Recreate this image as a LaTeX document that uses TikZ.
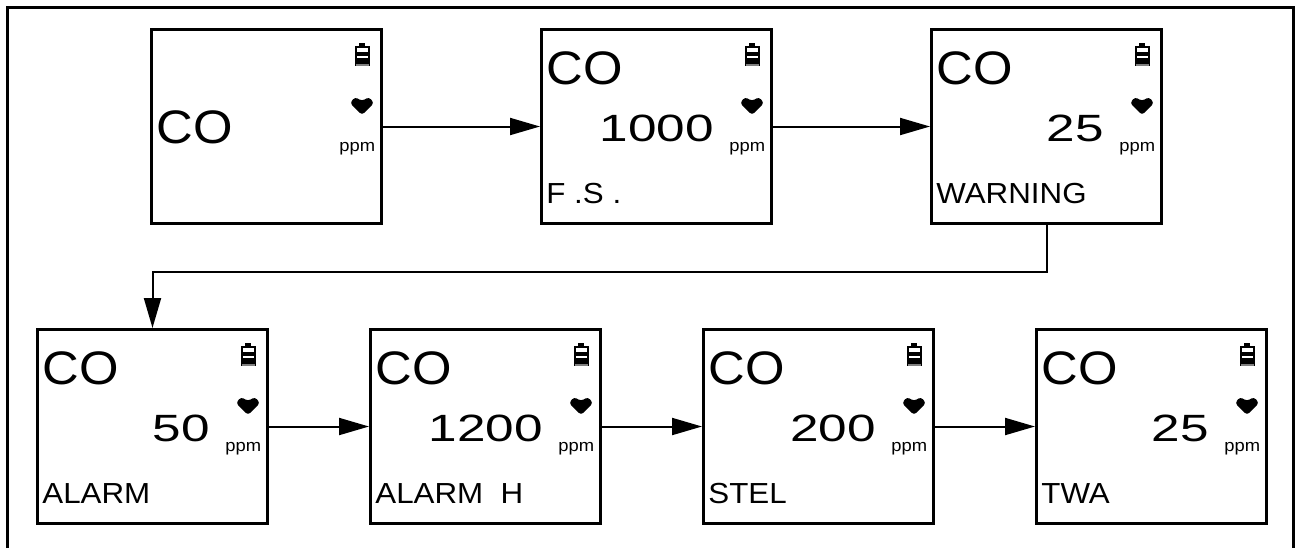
\documentclass[tikz,border=0pt]{standalone}
\usepackage{fontspec}
\setmainfont{Liberation Sans}
\newfontfamily\lcdfont[FakeStretch=1.08]{Liberation Sans}
\newfontfamily\digitfont[FakeStretch=1.35]{Liberation Sans}
\usetikzlibrary{arrows.meta}

\tikzset{
  screen/.style={draw=black, line width=1.5pt, minimum width=115pt,
    minimum height=97pt, anchor=north west, inner sep=0pt},
  gas/.style={font=\lcdfont\fontsize{23.5}{24}\selectfont, inner sep=0pt, anchor=base west},
  reading/.style={font=\digitfont\fontsize{19}{20}\selectfont, inner sep=0pt, anchor=base east},
  unit/.style={font=\lcdfont\fontsize{8.5}{9}\selectfont, inner sep=0pt, anchor=base west},
  mode/.style={font=\lcdfont\fontsize{14.5}{15}\selectfont, inner sep=0pt, anchor=base west},
  flow/.style={line width=1pt, -{Triangle[length=15pt,width=8.5pt]}},
}

%% battery, heart and unit in the right column of a screen
\newcommand{\screenicons}[1]{%
  \begin{scope}[shift={([shift={(205,15)}]#1.north west)}]
    \fill (4,0) rectangle (10,3);
    \fill (0,3) rectangle (15,23);
    \fill[white] (2,5) rectangle (13,9);
    \fill[white] (2,13) rectangle (13,15);
    \fill[gray] (1,21) rectangle (14,23);
  \end{scope}
  \begin{scope}[shift={([shift={(200,68)}]#1.north west)}]
    \fill[rounded corners=1.5pt] (12,19) -- (0,7) -- (5,1) -- (12,5)
      -- (19,1) -- (24,7) -- cycle;
  \end{scope}
  \node[unit] (#1unit) at ([shift={(189,123)}]#1.north west) {ppm};
}

%% screen with gas, reading and mode
\newcommand{\lcd}[5]{%
  \node[screen] (#1) at (#2,#3) {};
  \node[gas]     (#1gas)  at ([shift={(6,56)}]#1.north west) {CO};
  \node[reading] (#1val)  at ([shift={(174,113)}]#1.north west) {#4};
  \node[mode]    (#1mode) at ([shift={(6,175)}]#1.north west) {#5};
  \screenicons{#1}
}

\begin{document}
\begin{tikzpicture}[x=0.5pt, y=-0.5pt]
    \useasboundingbox (0,0) rectangle (1297,548);
    \draw[line width=1.5pt] (7,548) -- (7,7) -- (1293,7) -- (1293,548);

    %%   (name) (x, y)  {reading} {mode}
    \node[screen] (b1) at (150,28) {};
    \node[gas] (b1gas) at ([shift={(6,115)}]b1.north west) {CO};
    \screenicons{b1}
    \lcd{b2}{540}{28}{1000}{F .S .}
    \lcd{b3}{930}{28}{25}{WARNING}

    \lcd{b4}{36}{328}{50}{ALARM}
    \lcd{b5}{369}{328}{1200}{ALARM~~H}
    \lcd{b6}{702}{328}{200}{STEL}
    \lcd{b7}{1035}{328}{25}{TWA}

    \draw[flow] (b1) -- (b2);
    \draw[flow] (b2) -- (b3);
    \draw[flow] (b3.south) -- ++(0,47) -| (b4.north);
    \draw[flow] (b4) -- (b5);
    \draw[flow] (b5) -- (b6);
    \draw[flow] (b6) -- (b7);

\end{tikzpicture}
\end{document}
